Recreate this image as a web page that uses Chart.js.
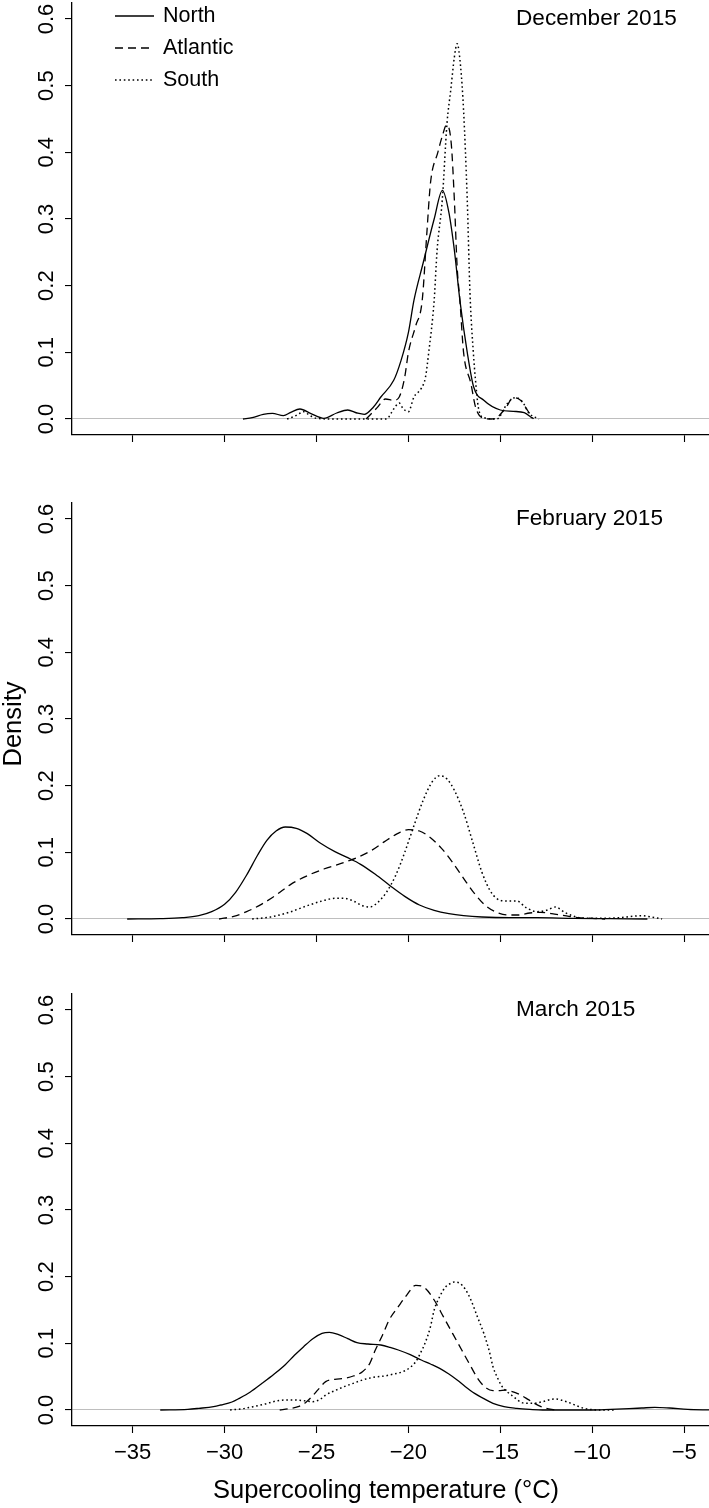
<!DOCTYPE html>
<html>
<head>
<meta charset="utf-8">
<script src="https://cdn.jsdelivr.net/npm/chart.js@4/dist/chart.umd.min.js"></script>
<style>
  html, body { margin: 0; padding: 0; background: #fff; }
  #wrap { position: relative; width: 709px; height: 1508px; }
  canvas { position: absolute; left: 0; }
</style>
</head>
<body>
<div id="wrap">
  <canvas id="c1" width="709" height="470" style="top:0px"></canvas>
  <canvas id="c2" width="709" height="500" style="top:470px"></canvas>
  <canvas id="c3" width="709" height="538" style="top:970px"></canvas>
</div>
<script>
// --- DATOS ---
const xTicks = [-35, -30, -25, -20, -15, -10, -5]
const xTickLabels = ['\u221235', '\u221230', '\u221225', '\u221220', '\u221215', '\u221210', '\u22125']
const yTicks = [0, 0.1, 0.2, 0.3, 0.4, 0.5, 0.6]
const yTickLabels = ['0.0', '0.1', '0.2', '0.3', '0.4', '0.5', '0.6']
const seriesNames = ['North', 'Atlantic', 'South']
const panelTitles = ['December 2015', 'February 2015', 'March 2015']

// December 2015
const decNorthT = [-29.0, -28.5, -27.9, -27.4, -26.8, -26.4, -25.9, -25.3, -24.6, -23.9, -23.3, -22.8, -22.4, -21.9, -21.5, -20.8, -20.4, -20.0, -19.7, -19.2, -18.6, -18.15, -17.8, -17.5, -17.2, -16.8, -16.45, -15.9, -15.0, -14.3, -13.7, -13.25]
const decNorthD = [0, 0.002, 0.007, 0.0085, 0.005, 0.01, 0.015, 0.008, 0.001, 0.009, 0.0135, 0.009, 0.007, 0.018, 0.033, 0.058, 0.088, 0.13, 0.178, 0.234, 0.30, 0.343, 0.31, 0.253, 0.178, 0.10, 0.048, 0.028, 0.0135, 0.0115, 0.0095, 0.001]
const decAtlT = [-22.3, -21.7, -21.25, -20.8, -20.5, -20.2, -20.0, -19.6, -19.25, -19.0, -18.8, -18.4, -18.15, -17.93, -17.67, -17.5, -17.35, -17.2, -17.0, -16.6, -16.35, -16.0, -15.5, -15.2, -14.7, -14.3, -13.9, -13.5, -13.2]
const decAtlD = [0, 0.017, 0.03, 0.028, 0.033, 0.063, 0.10, 0.14, 0.178, 0.278, 0.354, 0.40, 0.425, 0.441, 0.413, 0.328, 0.228, 0.178, 0.10, 0.053, 0.018, 0.002, 0, 0.002, 0.017, 0.032, 0.028, 0.012, 0]
const decSouthT = [-26.6, -26.2, -25.95, -25.7, -25.4, -25.0, -24.0, -23.0, -22.0, -21.2, -20.8, -20.5, -20.3, -20.0, -19.7, -19.3, -19.07, -18.9, -18.6, -18.44, -18.16, -17.9, -17.7, -17.5, -17.35, -17.16, -17.0, -16.8, -16.65, -16.47, -16.35, -16.2, -15.9, -15.2, -14.6, -14.2, -13.8, -13.45, -12.9]
const decSouthD = [0, 0.004, 0.008, 0.011, 0.006, 0.001, 0, 0, 0, 0, 0.015, 0.024, 0.016, 0.011, 0.033, 0.046, 0.063, 0.099, 0.178, 0.253, 0.328, 0.444, 0.493, 0.543, 0.563, 0.528, 0.463, 0.328, 0.188, 0.10, 0.058, 0.018, 0.002, 0, 0.024, 0.032, 0.026, 0.009, 0]

// February 2015
const febNorthT = [-35.3, -33.5, -32.3, -31.4, -30.7, -30.0, -29.4, -28.8, -28.2, -27.7, -27.2, -26.7, -26.1, -25.5, -24.8, -24.0, -23.3, -22.6, -21.8, -21.0, -20.2, -19.4, -18.6, -17.8, -17.0, -16.0, -14.5, -13.0, -11.0, -9.0, -7.0]
const febNorthD = [0, 0.0006, 0.002, 0.005, 0.011, 0.022, 0.04, 0.066, 0.096, 0.118, 0.132, 0.138, 0.136, 0.128, 0.114, 0.101, 0.092, 0.082, 0.067, 0.05, 0.034, 0.021, 0.013, 0.008, 0.005, 0.003, 0.002, 0.002, 0.001, 0.0005, 0]
const febAtlT = [-30.3, -29.5, -28.8, -28.0, -27.2, -26.4, -25.5, -24.6, -23.7, -22.8, -22.0, -21.3, -20.6, -20.0, -19.4, -18.8, -18.2, -17.6, -17.0, -16.4, -15.8, -15.2, -14.6, -14.0, -13.4, -12.8, -12.2, -11.5, -10.8, -10.0, -9.3]
const febAtlD = [0, 0.004, 0.011, 0.022, 0.036, 0.052, 0.065, 0.075, 0.083, 0.092, 0.103, 0.116, 0.128, 0.134, 0.132, 0.122, 0.106, 0.085, 0.061, 0.038, 0.02, 0.01, 0.006, 0.006, 0.009, 0.01, 0.008, 0.005, 0.002, 0.001, 0]
const febSouthT = [-28.5, -27.5, -26.5, -25.5, -24.7, -24.0, -23.5, -23.0, -22.5, -22.1, -21.7, -21.2, -20.7, -20.2, -19.7, -19.2, -18.7, -18.3, -17.9, -17.5, -17.0, -16.5, -16.0, -15.5, -15.0, -14.5, -14.1, -13.6, -13.0, -12.5, -12.0, -11.5, -11.0, -10.3, -9.5, -8.5, -7.8, -7.3, -6.8, -6.2]
const febSouthD = [0, 0.003, 0.01, 0.02, 0.027, 0.031, 0.031, 0.027, 0.02, 0.018, 0.024, 0.04, 0.065, 0.1, 0.14, 0.178, 0.206, 0.215, 0.21, 0.193, 0.16, 0.115, 0.07, 0.04, 0.028, 0.027, 0.027, 0.017, 0.011, 0.013, 0.018, 0.01, 0.004, 0.001, 0.001, 0.002, 0.004, 0.005, 0.003, 0]

// March 2015
const marNorthT = [-33.5, -32, -31.4, -30.6, -30.2, -29.6, -29.2, -28.6, -27.96, -27.3, -26.7, -26.2, -25.7, -25.2, -24.7, -24.3, -23.8, -23.3, -22.8, -22.2, -21.5, -21.0, -20.55, -19.9, -19.3, -18.8, -18.3, -17.8, -17.35, -16.9, -16.4, -15.9, -15.4, -14.8, -14.1, -13.4, -12.7, -11.5, -10.0, -9.0, -8.0, -7.3, -6.6, -5.8, -4.8, -3.6]
const marNorthD = [0, 0.001, 0.0025, 0.005, 0.0075, 0.012, 0.0175, 0.027, 0.04, 0.054, 0.068, 0.082, 0.095, 0.107, 0.115, 0.1165, 0.113, 0.107, 0.101, 0.099, 0.0975, 0.094, 0.09, 0.083, 0.075, 0.069, 0.0625, 0.054, 0.045, 0.035, 0.025, 0.017, 0.01, 0.005, 0.0025, 0.001, 0, 0, 0, 0.001, 0.002, 0.003, 0.004, 0.003, 0.001, 0]
const marAtlT = [-27.0, -26.5, -26.0, -25.6, -25.25, -24.9, -24.5, -24.0, -23.5, -23.0, -22.5, -22.1, -21.8, -21.4, -21.05, -20.55, -20.1, -19.6, -19.1, -18.6, -18.1, -17.6, -17.1, -16.6, -16.2, -15.75, -15.4, -15.1, -14.7, -14.4, -13.9, -13.5, -13.15, -12.7, -12.2, -11.8]
const marAtlD = [0, 0.002, 0.005, 0.011, 0.02, 0.031, 0.0425, 0.046, 0.0475, 0.051, 0.0575, 0.07, 0.09, 0.113, 0.135, 0.155, 0.172, 0.187, 0.183, 0.165, 0.14, 0.115, 0.09, 0.065, 0.046, 0.0325, 0.029, 0.029, 0.03, 0.028, 0.0225, 0.016, 0.01, 0.004, 0.001, 0]
const marSouthT = [-29.7, -29.0, -28.45, -27.8, -27.2, -26.7, -26.2, -25.7, -25.2, -24.8, -24.5, -24.0, -23.5, -23.0, -22.5, -21.9, -21.3, -20.8, -20.3, -19.9, -19.6, -19.3, -19.1, -18.8, -18.6, -18.3, -18.0, -17.7, -17.5, -17.2, -16.9, -16.6, -16.25, -15.9, -15.6, -15.4, -15.15, -14.9, -14.4, -13.65, -13.2, -12.7, -12.05, -11.4, -10.9, -10.45, -9.5, -8.7]
const marSouthD = [0, 0.002, 0.005, 0.009, 0.0135, 0.015, 0.015, 0.014, 0.0125, 0.016, 0.0225, 0.029, 0.035, 0.04, 0.045, 0.049, 0.051, 0.054, 0.0575, 0.064, 0.0725, 0.088, 0.10, 0.125, 0.15, 0.17, 0.184, 0.19, 0.192, 0.19, 0.181, 0.165, 0.14, 0.115, 0.088, 0.065, 0.048, 0.035, 0.0225, 0.01, 0.01, 0.0125, 0.0165, 0.0125, 0.007, 0.0025, 0, 0]

// --- CONFIGURACIÓN VISUAL ---
const FONT = "'Liberation Sans', Arial, Helvetica, sans-serif"
const X_MIN = -38.3, X_MAX = -3.65
const Y_MIN = -0.024, Y_MAX = 0.624
const lineDash = { North: [], Atlantic: [8, 5], South: [1.6, 2.8] }

function toPoints(t, d) {
  return t.map((v, i) => ({ x: v, y: d[i] }))
}

function makeDatasets(series) {
  return series.map((s, i) => ({
    label: seriesNames[i],
    data: toPoints(s[0], s[1]),
    borderColor: '#000',
    borderWidth: seriesNames[i] === 'South' ? 1.5 : 1.3,
    borderDash: lineDash[seriesNames[i]],
    borderCapStyle: 'butt',
    pointRadius: 0,
    fill: false,
    cubicInterpolationMode: 'monotone'
  }))
}

// textos: etiquetas del eje y giradas, leyenda, títulos
const panelText = {
  id: 'panelText',
  afterDraw(chart, args, opts) {
    const ctx = chart.ctx
    const y = chart.scales.y
    ctx.save()
    ctx.fillStyle = '#000'
    ctx.textBaseline = 'middle'

    // etiquetas del eje y (verticales, como en R)
    ctx.font = `22px ${FONT}`
    ctx.textAlign = 'center'
    yTicks.forEach((v, i) => {
      ctx.save()
      ctx.translate(46.5, y.getPixelForValue(v))
      ctx.rotate(-Math.PI / 2)
      ctx.fillText(yTickLabels[i], 0, 0)
      ctx.restore()
    })

    // título del panel
    ctx.font = `22.6px ${FONT}`
    ctx.textAlign = 'left'
    ctx.fillText(opts.title, 516, y.getPixelForValue(0.6))

    if (opts.legend) {
      ctx.font = `21.5px ${FONT}`
      chart.data.datasets.forEach((ds, i) => {
        const ly = 16 + 32 * i
        ctx.save()
        ctx.strokeStyle = '#000'
        ctx.lineWidth = ds.borderWidth
        ctx.setLineDash(ds.borderDash)
        ctx.beginPath()
        ctx.moveTo(115, ly)
        ctx.lineTo(154, ly)
        ctx.stroke()
        ctx.restore()
        ctx.fillText(ds.label, 163, ly)
      })
    }

    if (opts.yTitle) {
      ctx.font = `25.5px ${FONT}`
      ctx.textAlign = 'center'
      ctx.save()
      ctx.translate(14, opts.yTitleY)
      ctx.rotate(-Math.PI / 2)
      ctx.fillText(opts.yTitle, 0, 0)
      ctx.restore()
    }

    if (opts.xTitle) {
      ctx.font = `25.5px ${FONT}`
      ctx.textAlign = 'center'
      ctx.fillText(opts.xTitle, 386, opts.xTitleY)
    }
    ctx.restore()
  }
}

function panelOptions(p) {
  return {
    responsive: false,
    animation: false,
    devicePixelRatio: 1,
    layout: { padding: { top: p.padTop, right: 0, left: 0, bottom: 0 } },
    plugins: {
      legend: { display: false },
      tooltip: { enabled: false },
      panelText: p.text
    },
    scales: {
      x: {
        type: 'linear',
        min: X_MIN,
        max: X_MAX,
        afterBuildTicks: s => { s.ticks = xTicks.map(v => ({ value: v })) },
        afterFit: s => { s.height = p.xAxisHeight },
        grid: { drawOnChartArea: false, drawTicks: true, tickLength: 7, tickColor: '#000', tickWidth: 1.1 },
        border: { display: true, color: '#000', width: 1.3 },
        ticks: {
          display: p.showXLabels,
          autoSkip: false,
          maxRotation: 0,
          padding: 7,
          color: '#000',
          font: { family: FONT, size: 22 },
          callback: (v, i) => xTickLabels[i]
        }
      },
      y: {
        type: 'linear',
        min: Y_MIN,
        max: Y_MAX,
        afterBuildTicks: s => { s.ticks = yTicks.map(v => ({ value: v })) },
        afterFit: s => { s.width = 72 },
        grid: {
          color: c => (c.tick && c.tick.value === 0 ? '#bebebe' : 'rgba(0,0,0,0)'),
          lineWidth: 1.1,
          tickColor: '#000',
          tickLength: 7,
          tickWidth: 1.1
        },
        border: { display: true, color: '#000', width: 1.3 },
        ticks: { display: false }
      }
    }
  }
}

new Chart(document.getElementById('c1'), {
  type: 'line',
  data: { datasets: makeDatasets([[decNorthT, decNorthD], [decAtlT, decAtlD], [decSouthT, decSouthD]]) },
  options: panelOptions({ padTop: 3, xAxisHeight: 35, showXLabels: false, text: { title: panelTitles[0], legend: true } }),
  plugins: [panelText]
})

new Chart(document.getElementById('c2'), {
  type: 'line',
  data: { datasets: makeDatasets([[febNorthT, febNorthD], [febAtlT, febAtlD], [febSouthT, febSouthD]]) },
  options: panelOptions({ padTop: 33, xAxisHeight: 35, showXLabels: false, text: { title: panelTitles[1], yTitle: 'Density', yTitleY: 254 } }),
  plugins: [panelText]
})

new Chart(document.getElementById('c3'), {
  type: 'line',
  data: { datasets: makeDatasets([[marNorthT, marNorthD], [marAtlT, marAtlD], [marSouthT, marSouthD]]) },
  options: panelOptions({ padTop: 24, xAxisHeight: 82, showXLabels: true, text: { title: panelTitles[2], xTitle: 'Supercooling temperature (\u00B0C)', xTitleY: 521 } }),
  plugins: [panelText]
})
</script>
</body>
</html>
